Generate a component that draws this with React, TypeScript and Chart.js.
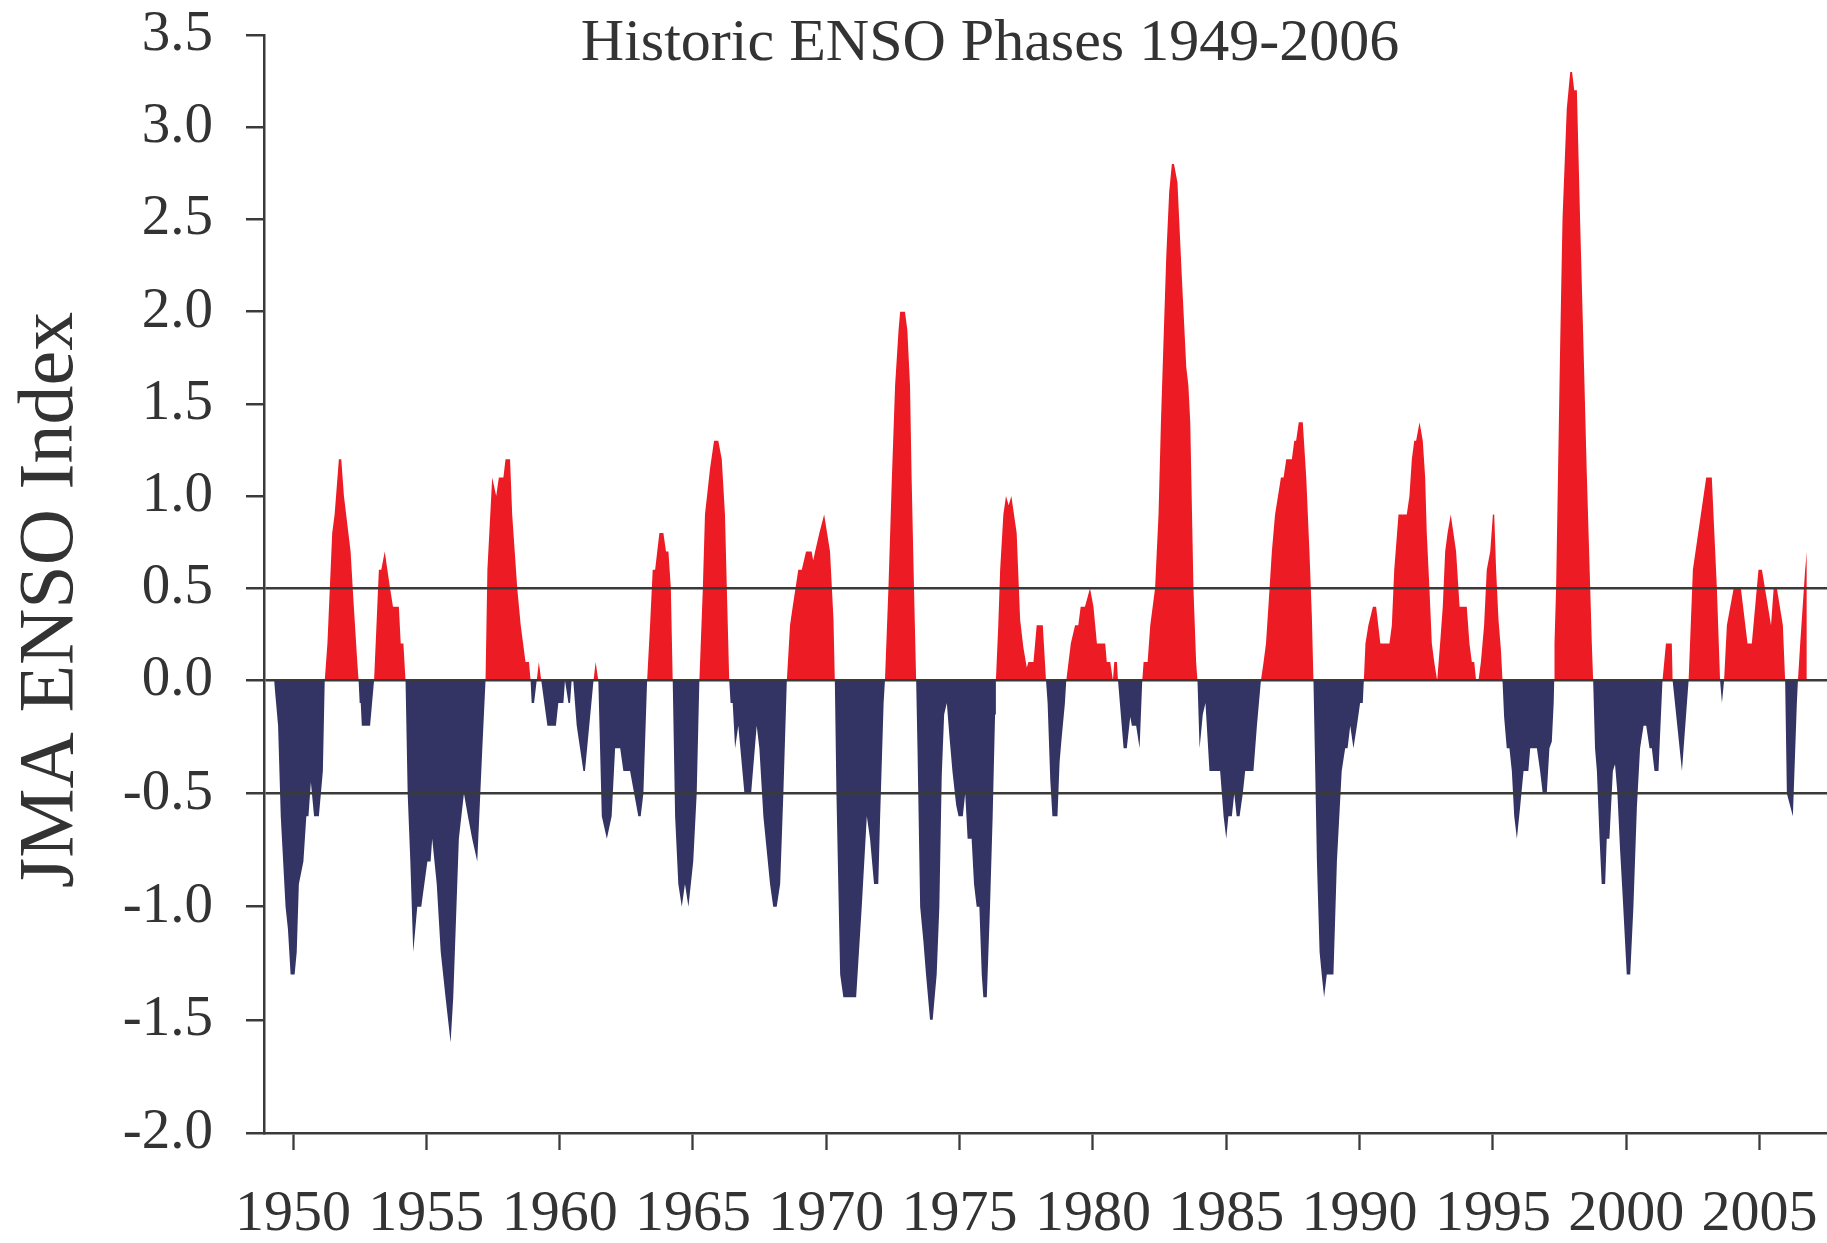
import React, { useEffect, useRef } from 'react';
import { Chart, registerables, LinearScale } from 'chart.js';

Chart.register(...registerables);

// ---------------- data ----------------
const CHART_TITLE = 'Historic ENSO Phases 1949-2006';
const Y_TITLE = 'JMA ENSO Index';

const yTickValues = [-2.0, -1.5, -1.0, -0.5, 0.0, 0.5, 1.0, 1.5, 2.0, 2.5, 3.0, 3.5];
const xTickValues = [1950, 1955, 1960, 1965, 1970, 1975, 1980, 1985, 1990, 1995, 2000, 2005];
const referenceLines = [-0.5, 0, 0.5];

// [decimal year, JMA ENSO index]
const enso1940s: [number, number][] = [
  [1949.29, 0], [1949.44, -0.2], [1949.54, -0.6], [1949.72, -1.0], [1949.81, -1.1], [1949.91, -1.3],
];
const enso1950s: [number, number][] = [
  [1950.06, -1.3], [1950.14, -1.2], [1950.22, -0.9], [1950.39, -0.8], [1950.50, -0.6], [1950.58, -0.6],
  [1950.67, -0.45], [1950.79, -0.6], [1950.97, -0.6], [1951.12, -0.4], [1951.19, 0], [1951.29, 0.2],
  [1951.47, 0.8], [1951.56, 0.9], [1951.72, 1.2], [1951.81, 1.2], [1951.91, 1.0], [1952.16, 0.7],
  [1952.26, 0.45], [1952.41, 0.1], [1952.46, 0], [1952.50, -0.1], [1952.54, -0.1], [1952.58, -0.2],
  [1952.89, -0.2], [1953.04, 0], [1953.16, 0.4], [1953.22, 0.6], [1953.31, 0.6], [1953.44, 0.7],
  [1953.64, 0.5], [1953.75, 0.4], [1953.97, 0.4], [1954.04, 0.2], [1954.14, 0.2], [1954.22, 0],
  [1954.30, -0.5], [1954.40, -0.8], [1954.51, -1.2], [1954.66, -1.0], [1954.81, -1.0], [1955.04, -0.8],
  [1955.16, -0.8], [1955.22, -0.7], [1955.39, -0.9], [1955.54, -1.2], [1955.72, -1.4], [1955.91, -1.6],
  [1956.01, -1.4], [1956.10, -1.1], [1956.22, -0.7], [1956.41, -0.5], [1956.56, -0.6], [1956.72, -0.7],
  [1956.91, -0.8], [1957.10, -0.3], [1957.22, 0], [1957.29, 0.6], [1957.47, 1.1], [1957.62, 1.0],
  [1957.72, 1.1], [1957.89, 1.1], [1957.97, 1.2], [1958.14, 1.2], [1958.22, 0.9], [1958.41, 0.5],
  [1958.54, 0.3], [1958.72, 0.1], [1958.85, 0.1], [1958.91, 0], [1958.95, -0.1], [1959.04, -0.1],
  [1959.14, 0], [1959.22, 0.1], [1959.31, 0], [1959.54, -0.2], [1959.86, -0.2], [1959.95, -0.1],
];
const enso1960s: [number, number][] = [
  [1960.14, -0.1], [1960.20, 0], [1960.33, -0.1], [1960.39, -0.1], [1960.45, 0], [1960.51, 0],
  [1960.64, -0.2], [1960.89, -0.4], [1960.95, -0.4], [1961.27, 0], [1961.35, 0.1], [1961.45, 0],
  [1961.58, -0.6], [1961.77, -0.7], [1961.95, -0.6], [1962.08, -0.3], [1962.27, -0.3], [1962.39, -0.4],
  [1962.64, -0.4], [1962.95, -0.6], [1963.04, -0.6], [1963.14, -0.5], [1963.28, 0], [1963.39, 0.3],
  [1963.49, 0.6], [1963.58, 0.6], [1963.74, 0.8], [1963.89, 0.8], [1963.99, 0.7], [1964.08, 0.7],
  [1964.17, 0.5], [1964.24, 0], [1964.33, -0.6], [1964.45, -0.9], [1964.58, -1.0], [1964.70, -0.9],
  [1964.83, -1.0], [1965.01, -0.8], [1965.14, -0.5], [1965.24, 0], [1965.37, 0.5], [1965.45, 0.9],
  [1965.64, 1.15], [1965.79, 1.3], [1965.95, 1.3], [1966.08, 1.2], [1966.20, 0.9], [1966.27, 0.5],
  [1966.36, 0], [1966.41, -0.1], [1966.49, -0.1], [1966.58, -0.3], [1966.70, -0.2], [1966.93, -0.5],
  [1967.18, -0.5], [1967.39, -0.2], [1967.49, -0.3], [1967.64, -0.6], [1967.89, -0.9], [1968.01, -1.0],
  [1968.14, -1.0], [1968.27, -0.9], [1968.39, -0.5], [1968.52, 0], [1968.64, 0.3], [1968.74, 0.4],
  [1968.95, 0.6], [1969.08, 0.6], [1969.24, 0.7], [1969.45, 0.7], [1969.51, 0.65], [1969.58, 0.7],
  [1969.74, 0.8], [1969.92, 0.9],
];
const enso1970s: [number, number][] = [
  [1970.14, 0.7], [1970.27, 0.33], [1970.32, 0], [1970.38, -0.5], [1970.52, -1.3], [1970.64, -1.4],
  [1971.12, -1.4], [1971.33, -1.0], [1971.52, -0.6], [1971.64, -0.7], [1971.79, -0.9], [1971.95, -0.9],
  [1972.02, -0.6], [1972.15, -0.1], [1972.20, 0], [1972.33, 0.5], [1972.46, 1.1], [1972.58, 1.6],
  [1972.71, 1.9], [1972.77, 2.0], [1972.95, 2.0], [1973.04, 1.9], [1973.14, 1.6], [1973.20, 1.1],
  [1973.29, 0.5], [1973.37, 0], [1973.42, -0.3], [1973.52, -1.0], [1973.64, -1.15], [1973.74, -1.3],
  [1973.89, -1.5], [1973.99, -1.5], [1974.14, -1.3], [1974.24, -1.0], [1974.33, -0.42], [1974.42, -0.15],
  [1974.52, -0.1], [1974.62, -0.25], [1974.73, -0.4], [1974.87, -0.55], [1974.96, -0.6], [1975.12, -0.6],
  [1975.21, -0.5], [1975.30, -0.7], [1975.45, -0.7], [1975.54, -0.9], [1975.64, -1.0], [1975.74, -1.0],
  [1975.83, -1.3], [1975.89, -1.4], [1976.02, -1.4], [1976.14, -1.0], [1976.24, -0.6], [1976.33, -0.15],
  [1976.36, 0], [1976.45, 0.3], [1976.52, 0.6], [1976.64, 0.9], [1976.74, 1.0], [1976.84, 0.95],
  [1976.94, 1.0], [1977.14, 0.8], [1977.27, 0.33], [1977.39, 0.18], [1977.52, 0.07], [1977.58, 0.1],
  [1977.77, 0.1], [1977.89, 0.3], [1978.12, 0.3], [1978.20, 0.1], [1978.24, 0], [1978.30, -0.1],
  [1978.40, -0.44], [1978.48, -0.6], [1978.67, -0.6], [1978.75, -0.36], [1978.83, -0.25], [1978.95, -0.1],
  [1979.00, 0], [1979.17, 0.2], [1979.33, 0.3], [1979.45, 0.3], [1979.54, 0.4], [1979.70, 0.4],
  [1979.89, 0.5],
];
const enso1980s: [number, number][] = [
  [1980.02, 0.4], [1980.15, 0.2], [1980.46, 0.2], [1980.52, 0.1], [1980.65, 0.1], [1980.75, 0],
  [1980.80, 0.1], [1980.90, 0.1], [1980.94, 0], [1981.15, -0.3], [1981.27, -0.3], [1981.40, -0.16],
  [1981.46, -0.2], [1981.62, -0.2], [1981.75, -0.3], [1981.85, 0], [1981.90, 0.1], [1982.05, 0.1],
  [1982.15, 0.3], [1982.33, 0.5], [1982.46, 0.9], [1982.55, 1.4], [1982.66, 1.9], [1982.75, 2.3],
  [1982.86, 2.65], [1982.96, 2.8], [1983.04, 2.8], [1983.17, 2.7], [1983.33, 2.2], [1983.50, 1.7],
  [1983.58, 1.6], [1983.65, 1.4], [1983.77, 0.5], [1983.87, 0.1], [1983.92, 0], [1984.00, -0.3],
  [1984.12, -0.15], [1984.22, -0.1], [1984.37, -0.4], [1984.77, -0.4], [1984.90, -0.6], [1985.00, -0.7],
  [1985.08, -0.6], [1985.21, -0.6], [1985.30, -0.5], [1985.39, -0.6], [1985.50, -0.6], [1985.62, -0.5],
  [1985.71, -0.4], [1986.02, -0.4], [1986.15, -0.2], [1986.30, 0], [1986.40, 0.1], [1986.49, 0.2],
  [1986.58, 0.4], [1986.71, 0.7], [1986.83, 0.9], [1986.94, 1.0], [1987.05, 1.1], [1987.15, 1.1],
  [1987.25, 1.2], [1987.46, 1.2], [1987.55, 1.3], [1987.62, 1.3], [1987.72, 1.4], [1987.87, 1.4],
  [1988.00, 1.1], [1988.12, 0.7], [1988.21, 0.35], [1988.27, 0], [1988.32, -0.3], [1988.40, -0.8],
  [1988.50, -1.2], [1988.58, -1.3], [1988.67, -1.4], [1988.77, -1.3], [1989.02, -1.3], [1989.15, -0.8],
  [1989.33, -0.4], [1989.46, -0.3], [1989.55, -0.3], [1989.65, -0.2], [1989.77, -0.3], [1989.90, -0.2],
];
const enso1990s: [number, number][] = [
  [1990.02, -0.1], [1990.12, -0.1], [1990.16, 0], [1990.22, 0.2], [1990.33, 0.3], [1990.50, 0.4],
  [1990.62, 0.4], [1990.78, 0.2], [1991.12, 0.2], [1991.21, 0.3], [1991.30, 0.6], [1991.46, 0.9],
  [1991.77, 0.9], [1991.87, 1.0], [1991.96, 1.2], [1992.05, 1.3], [1992.12, 1.3], [1992.25, 1.4],
  [1992.37, 1.3], [1992.46, 1.1], [1992.52, 0.8], [1992.62, 0.5], [1992.71, 0.2], [1992.80, 0.1],
  [1992.91, 0], [1993.02, 0.2], [1993.12, 0.4], [1993.21, 0.7], [1993.30, 0.8], [1993.42, 0.9],
  [1993.52, 0.8], [1993.62, 0.7], [1993.75, 0.4], [1994.02, 0.4], [1994.12, 0.2], [1994.21, 0.1],
  [1994.30, 0.1], [1994.37, 0], [1994.46, 0], [1994.55, 0.1], [1994.67, 0.3], [1994.77, 0.6],
  [1994.90, 0.7], [1995.00, 0.9], [1995.05, 0.9], [1995.12, 0.6], [1995.21, 0.33], [1995.30, 0.17],
  [1995.36, 0], [1995.42, -0.16], [1995.52, -0.3], [1995.62, -0.3], [1995.71, -0.4], [1995.80, -0.6],
  [1995.90, -0.7], [1996.02, -0.56], [1996.15, -0.4], [1996.33, -0.4], [1996.40, -0.3], [1996.65, -0.3],
  [1996.77, -0.4], [1996.87, -0.5], [1997.02, -0.5], [1997.12, -0.3], [1997.21, -0.27], [1997.28, -0.1],
  [1997.30, 0], [1997.31, 0.2], [1997.37, 0.5], [1997.52, 1.8], [1997.61, 2.5], [1997.77, 3.1],
  [1997.90, 3.3], [1997.97, 3.3], [1998.05, 3.2], [1998.15, 3.2], [1998.27, 2.5], [1998.40, 1.8],
  [1998.52, 1.13], [1998.65, 0.5], [1998.71, 0.2], [1998.76, 0], [1998.83, -0.3], [1998.90, -0.4],
  [1999.00, -0.7], [1999.08, -0.9], [1999.21, -0.9], [1999.27, -0.7], [1999.37, -0.7], [1999.50, -0.4],
  [1999.58, -0.37], [1999.67, -0.5], [1999.77, -0.75], [1999.87, -0.96],
];
const enso2000s: [number, number][] = [
  [2000.02, -1.3], [2000.15, -1.3], [2000.27, -1.0], [2000.40, -0.56], [2000.52, -0.3], [2000.65, -0.2],
  [2000.75, -0.2], [2000.875, -0.3], [2000.96, -0.3], [2001.06, -0.4], [2001.21, -0.4], [2001.36, 0],
  [2001.49, 0.2], [2001.71, 0.2], [2001.74, 0], [2002.09, -0.4], [2002.34, 0], [2002.50, 0.6],
  [2003.00, 1.1], [2003.21, 1.1], [2003.40, 0.5], [2003.52, 0], [2003.59, -0.1], [2003.67, 0],
  [2003.775, 0.3], [2004.03, 0.5], [2004.30, 0.5], [2004.55, 0.2], [2004.71, 0.2], [2004.96, 0.6],
  [2005.09, 0.6], [2005.43, 0.3], [2005.53, 0.5], [2005.65, 0.5], [2005.875, 0.3], [2005.96, 0],
  [2006.025, -0.5], [2006.25, -0.6], [2006.40, -0.1], [2006.44, 0], [2006.525, 0.2], [2006.71, 0.6],
  [2006.775, 0.7],
];

// ---------------- style ----------------
const RED = '#ED1C24';
const NAVY = '#333464';
const AXIS_COLOR = '#3a3a3a';
const TEXT_COLOR = '#333333';
const FONT = "'Liberation Serif', 'Times New Roman', serif";

const X_MIN = 1948.912;
const X_MAX = 2007.53;
const Y_MIN = -2.0;
const Y_MAX = 3.5;
const NEG_STRETCH = 1.2268; // negative half of the axis is drawn taller than the positive half

class SplitLinearScale extends LinearScale {
  static id = 'splitLinear';
  static defaults = LinearScale.defaults;
  warp(v: number) {
    return v < 0 ? v * NEG_STRETCH : v;
  }
  unwarp(v: number) {
    return v < 0 ? v / NEG_STRETCH : v;
  }
  getPixelForValue(value: any) {
    if (value === null || value === undefined || isNaN(value)) return NaN;
    const lo = this.warp(this.min);
    const hi = this.warp(this.max);
    return this.getPixelForDecimal((this.warp(+value) - lo) / (hi - lo));
  }
  getValueForPixel(pixel: number) {
    const lo = this.warp(this.min);
    const hi = this.warp(this.max);
    return this.unwarp(lo + this.getDecimalForPixel(pixel) * (hi - lo));
  }
}
Chart.register(SplitLinearScale as any);

const titlesPlugin = {
  id: 'customTitles',
  afterDraw(chart: any) {
    const ctx = chart.ctx as CanvasRenderingContext2D;
    ctx.save();
    ctx.fillStyle = TEXT_COLOR;
    ctx.font = `60px ${FONT}`;
    ctx.textAlign = 'center';
    ctx.textBaseline = 'alphabetic';
    ctx.fillText(CHART_TITLE, 990, 60);
    ctx.translate(72, 600);
    ctx.rotate(-Math.PI / 2);
    ctx.font = `78px ${FONT}`;
    ctx.fillText(Y_TITLE, 0, 0);
    ctx.restore();
  },
};

export default function App() {
  const canvasRef = useRef<HTMLCanvasElement | null>(null);

  useEffect(() => {
    if (!canvasRef.current) return;
    const series = [
      ...enso1940s, ...enso1950s, ...enso1960s, ...enso1970s, ...enso1980s, ...enso1990s, ...enso2000s,
    ].map(([x, y]) => ({ x, y }));

    const chart = new Chart(canvasRef.current, {
      type: 'line',
      data: {
        datasets: [
          {
            data: series,
            borderWidth: 0,
            borderColor: 'rgba(0,0,0,0)',
            pointRadius: 0,
            pointHoverRadius: 0,
            tension: 0,
            fill: { target: 'origin', above: RED, below: NAVY },
          } as any,
        ],
      },
      options: {
        responsive: false,
        animation: false,
        events: [],
        layout: { padding: { top: 35, left: 0, right: 0, bottom: 0 } },
        plugins: {
          legend: { display: false },
          tooltip: { enabled: false },
          title: { display: false },
        },
        scales: {
          x: {
            type: 'linear',
            min: X_MIN,
            max: X_MAX,
            afterBuildTicks: (s: any) => {
              s.ticks = xTickValues.map((v) => ({ value: v }));
            },
            afterFit: (s: any) => {
              s.height = 110;
              s.paddingLeft = 0;
              s.paddingRight = 0;
            },
            grid: {
              drawOnChartArea: false,
              tickLength: 17,
              tickColor: AXIS_COLOR,
              tickWidth: 2.3,
            },
            border: { color: AXIS_COLOR, width: 2.5 },
            ticks: {
              autoSkip: false,
              maxRotation: 0,
              minRotation: 0,
              padding: 30,
              color: TEXT_COLOR,
              font: { family: FONT, size: 58, lineHeight: 1.2 },
              callback: (v: any) => String(v),
            },
          },
          y: {
            type: 'splitLinear' as any,
            min: Y_MIN,
            max: Y_MAX,
            afterBuildTicks: (s: any) => {
              s.ticks = yTickValues.map((v) => ({ value: v }));
            },
            afterFit: (s: any) => {
              s.width = 264;
              s.paddingTop = 0;
              s.paddingBottom = 0;
            },
            grid: {
              z: 1,
              color: (c: any) =>
                c.tick && referenceLines.includes(c.tick.value) ? AXIS_COLOR : 'rgba(0,0,0,0)',
              lineWidth: 2.5,
              tickLength: 18,
              tickColor: AXIS_COLOR,
              tickWidth: 2.5,
            },
            border: { color: AXIS_COLOR, width: 2.5, z: 2 },
            ticks: {
              z: 2,
              autoSkip: false,
              padding: 33,
              color: TEXT_COLOR,
              font: { family: FONT, size: 57, lineHeight: 1.2 },
              callback: (v: any) => Number(v).toFixed(1),
            },
          } as any,
        },
      },
      plugins: [titlesPlugin],
    });

    return () => {
      chart.destroy();
    };
  }, []);

  return (
    <div style={{ position: 'absolute', left: 0, top: 0, width: 1827, height: 1243, background: '#fff' }}>
      <canvas ref={canvasRef} width={1827} height={1243} style={{ display: 'block' }} />
    </div>
  );
}
